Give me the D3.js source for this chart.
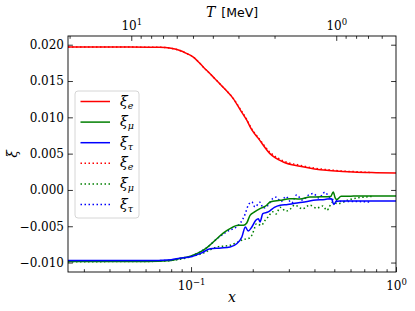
<!DOCTYPE html>
<html>
<head>
<meta charset="utf-8">
<script src="https://cdn.jsdelivr.net/npm/d3@7"></script>
<style>
  body { margin: 0; background: #fff; }
  svg { display: block; }
</style>
</head>
<body>
<svg id="chart" width="415" height="311"></svg>
<script>
var W = 415, H = 311;
var margin = {top: 36, right: 19, bottom: 39, left: 68};
var ME = 0.511; // T = m_e / x
var SERIF = '"DejaVu Serif", serif';

// ---- data ----
var labels = ['e', 'μ', 'τ', 'e', 'μ', 'τ'];
var colors = ['#ff0000', '#007f00', '#0000ff', '#ff0000', '#007f00', '#0000ff'];
var dotted = [false, false, false, true, true, true];

var xeSolid = [0.0251, 0.05, 0.07, 0.08, 0.0883, 0.095, 0.1026, 0.115, 0.1285, 0.145, 0.1607, 0.175, 0.187, 0.1977, 0.213, 0.2427, 0.2818, 0.34, 0.40, 0.459, 0.55, 0.619, 0.8, 1.0];
var yeSolid = [0.01967, 0.01967, 0.01965, 0.0195, 0.0192, 0.0188, 0.0183, 0.0169, 0.01554, 0.0140, 0.01257, 0.0109, 0.0096, 0.0083, 0.0071, 0.0050, 0.00385, 0.00325, 0.0029, 0.0027, 0.00255, 0.00247, 0.00238, 0.00233];

var xmSolid = [0.0251, 0.06, 0.08, 0.088, 0.1, 0.111, 0.12, 0.134, 0.144, 0.155, 0.170, 0.18, 0.187, 0.194, 0.205, 0.217, 0.234, 0.243, 0.272, 0.304, 0.34, 0.38, 0.43, 0.48, 0.494, 0.505, 0.513, 0.54, 0.62, 0.8, 1.0];
var ymSolid = [-0.00986, -0.00985, -0.0097, -0.00945, -0.0091, -0.00854, -0.0079, -0.00669, -0.0059, -0.00532, -0.00487, -0.00487, -0.00455, -0.0035, -0.0030, -0.00257, -0.00211, -0.00166, -0.00143, -0.0012, -0.00125, -0.00097, -0.00095, -0.0009, -0.00028, -0.0011, -0.00133, -0.00088, -0.00085, -0.00083, -0.00083];

var xtSolid = [0.0251, 0.06, 0.08, 0.088, 0.1, 0.112, 0.124, 0.14, 0.155, 0.167, 0.177, 0.184, 0.19, 0.198, 0.207, 0.213, 0.217, 0.224, 0.238, 0.255, 0.272, 0.296, 0.316, 0.35, 0.395, 0.45, 0.484, 0.497, 0.51, 0.53, 0.6, 0.8, 1.0];
var ytSolid = [-0.00972, -0.00972, -0.0096, -0.0094, -0.0092, -0.0087, -0.0081, -0.0080, -0.00785, -0.0074, -0.00648, -0.0051, -0.00565, -0.0051, -0.00418, -0.00395, -0.0044, -0.00326, -0.00303, -0.0024, -0.00211, -0.0020, -0.00188, -0.0017, -0.00143, -0.0013, -0.0012, -0.0020, -0.0016, -0.00152, -0.00152, -0.00152, -0.00152];

var xeDot = [0.0251, 0.05, 0.07, 0.08, 0.0883, 0.095, 0.1026, 0.115, 0.1285, 0.145, 0.1607, 0.175, 0.187, 0.1977, 0.213, 0.2427, 0.2818, 0.34, 0.40, 0.459, 0.55, 0.65, 0.76];
var yeDot = [0.01967, 0.01967, 0.01965, 0.0195, 0.0192, 0.0188, 0.0183, 0.0169, 0.01554, 0.0140, 0.0126, 0.0110, 0.0097, 0.0084, 0.0072, 0.0052, 0.0040, 0.0034, 0.0030, 0.0028, 0.0026, 0.0025, 0.0024];

var xmDot = [0.0251, 0.06, 0.08, 0.09, 0.1, 0.115, 0.134, 0.155, 0.17, 0.18, 0.19, 0.198, 0.205, 0.208, 0.22, 0.23, 0.238, 0.25, 0.26, 0.272, 0.29, 0.30, 0.32, 0.35, 0.38, 0.41, 0.44, 0.46, 0.49, 0.52, 0.58, 0.65, 0.76];
var ymDot = [-0.00988, -0.00985, -0.0097, -0.0095, -0.0092, -0.00868, -0.00785, -0.00762, -0.00716, -0.00683, -0.0067, -0.00624, -0.0051, -0.00464, -0.00487, -0.00418, -0.0037, -0.0030, -0.0033, -0.0024, -0.0029, -0.0028, -0.0021, -0.0026, -0.0021, -0.0025, -0.0022, -0.0028, -0.0017, -0.0019, -0.0014, -0.0011, -0.0009];

var xtDot = [0.0251, 0.06, 0.08, 0.088, 0.1, 0.111, 0.12, 0.134, 0.149, 0.173, 0.184, 0.19, 0.198, 0.205, 0.217, 0.225, 0.236, 0.25, 0.26, 0.275, 0.29, 0.31, 0.327, 0.35, 0.37, 0.395, 0.42, 0.45, 0.47, 0.5, 0.55, 0.65, 0.76];
var ytDot = [-0.00975, -0.00975, -0.0097, -0.00945, -0.0091, -0.0085, -0.0079, -0.0067, -0.00578, -0.00464, -0.00326, -0.00211, -0.00166, -0.00234, -0.0017, -0.0025, -0.0022, -0.0012, -0.0010, -0.0016, -0.0009, -0.0018, -0.0007, -0.0014, -0.0008, -0.0005, -0.0011, -0.0003, -0.0009, -0.0014, -0.0016, -0.0016, -0.0017];

var xsAll = [xeSolid, xmSolid, xtSolid, xeDot, xmDot, xtDot];
var ysAll = [yeSolid, ymSolid, ytSolid, yeDot, ymDot, ytDot];

var yTicks = [-0.010, -0.005, 0.000, 0.005, 0.010, 0.015, 0.020];
var xMajor = [0.1, 1];
var xMinor = [0.03, 0.04, 0.05, 0.06, 0.07, 0.08, 0.09, 0.2, 0.3, 0.4, 0.5, 0.6, 0.7, 0.8, 0.9];
var tMajor = [10, 1];
var tMinor = [20, 9, 8, 7, 6, 5, 4, 3, 2, 0.9, 0.8, 0.7, 0.6];

// ---- scales ----
var x = d3.scaleLog().domain([0.0251, 1]).range([margin.left, W - margin.right]);
var xT = d3.scaleLog().domain([ME / 0.0251, ME]).range([margin.left, W - margin.right]);
var y = d3.scaleLinear().domain([-0.0113, 0.0212]).range([H - margin.bottom, margin.top]);

var svg = d3.select('#chart');

// lines
var lineGen = d3.line().x(d => x(d[0])).y(d => y(d[1])).curve(d3.curveMonotoneX);
var plot = svg.append('g');
[3, 4, 5, 0, 1, 2].forEach(function(i) {
  var pts = xsAll[i].map((v, k) => [v, ysAll[i][k]]);
  plot.append('path')
    .attr('d', lineGen(pts))
    .attr('fill', 'none')
    .attr('stroke', colors[i])
    .attr('stroke-width', 1.5)
    .attr('stroke-dasharray', dotted[i] ? '1.5,2.5' : null);
});

// axes (ticks pointing inward)
function addAxis(axis, tx, ty) {
  var g = svg.append('g').attr('transform', 'translate(' + tx + ',' + ty + ')').call(axis);
  g.attr('font-family', SERIF).attr('font-size', 12);
  g.select('.domain').remove();
  g.selectAll('.tick line').attr('stroke', '#000').attr('stroke-width', 0.8);
  g.selectAll('.tick text').attr('fill', '#000');
  return g;
}
var bottomY = H - margin.bottom, topY = margin.top;
var leftX = margin.left, rightX = W - margin.right;

addAxis(d3.axisBottom(x).tickValues(xMinor).tickSize(-2.8).tickFormat(''), 0, bottomY);
addAxis(d3.axisTop(xT).tickValues(tMinor).tickSize(-2.8).tickFormat(''), 0, topY);
var gb = addAxis(d3.axisBottom(x).tickValues(xMajor).tickSize(-4.9).tickFormat(''), 0, bottomY);
var gt = addAxis(d3.axisTop(xT).tickValues(tMajor).tickSize(-4.9).tickFormat(''), 0, topY);
addAxis(d3.axisLeft(y).tickValues(yTicks).tickSize(-4.9).tickPadding(4).tickFormat(d3.format('.3f')), leftX, 0);
addAxis(d3.axisRight(y).tickValues(yTicks).tickSize(-4.9).tickFormat(''), rightX, 0);

function powerLabel(g, dy) {
  g.selectAll('.tick').each(function(d) {
    var e = Math.round(Math.log10(d));
    var t = d3.select(this).append('text').attr('fill', '#000').attr('text-anchor', 'middle').attr('y', dy);
    t.append('tspan').text('10');
    t.append('tspan').attr('dy', -5).attr('font-size', '8.5px').text(e < 0 ? '−' + (-e) : e);
  });
}
powerLabel(gb, 18);
powerLabel(gt, -6);

// frame
svg.append('rect')
  .attr('x', leftX).attr('y', topY)
  .attr('width', rightX - leftX).attr('height', bottomY - topY)
  .attr('fill', 'none').attr('stroke', '#000').attr('stroke-width', 0.9);

// axis labels
svg.append('text').attr('x', (leftX + rightX) / 2).attr('y', 302)
  .attr('text-anchor', 'middle').attr('font-family', SERIF)
  .attr('font-style', 'italic').attr('font-size', '14px').text('x');
svg.append('text').attr('transform', 'translate(17,' + ((topY + bottomY) / 2) + ') rotate(-90)')
  .attr('text-anchor', 'middle').attr('font-family', SERIF)
  .attr('font-style', 'italic').attr('font-size', '14px').text('ξ');
var tl = svg.append('text').attr('x', (leftX + rightX) / 2).attr('y', 17).attr('text-anchor', 'middle');
tl.append('tspan').attr('font-family', SERIF).attr('font-style', 'italic').attr('font-size', '14px').text('T');
tl.append('tspan').attr('font-family', '"DejaVu Sans", sans-serif').attr('font-size', '12.5px').attr('dx', 6).text('[MeV]');

// legend
var leg = svg.append('g').attr('transform', 'translate(75,91)');
leg.append('rect').attr('width', 64).attr('height', 127).attr('rx', 3)
  .attr('fill', '#fff').attr('fill-opacity', 0.8).attr('stroke', '#ccc').attr('stroke-width', 0.8);
labels.forEach(function(lab, i) {
  var yy = 10.5 + i * 20.6;
  leg.append('line').attr('x1', 5.5).attr('x2', 35).attr('y1', yy).attr('y2', yy)
    .attr('stroke', colors[i]).attr('stroke-width', 1.5)
    .attr('stroke-dasharray', dotted[i] ? '1.5,2.5' : null);
  var t = leg.append('text').attr('x', 45).attr('y', yy + 4)
    .attr('font-family', SERIF).attr('font-style', 'italic').attr('font-size', '14px');
  t.append('tspan').text('ξ');
  t.append('tspan').attr('dy', 3).attr('font-size', '9.5px').text(lab);
});
</script>
</body>
</html>
